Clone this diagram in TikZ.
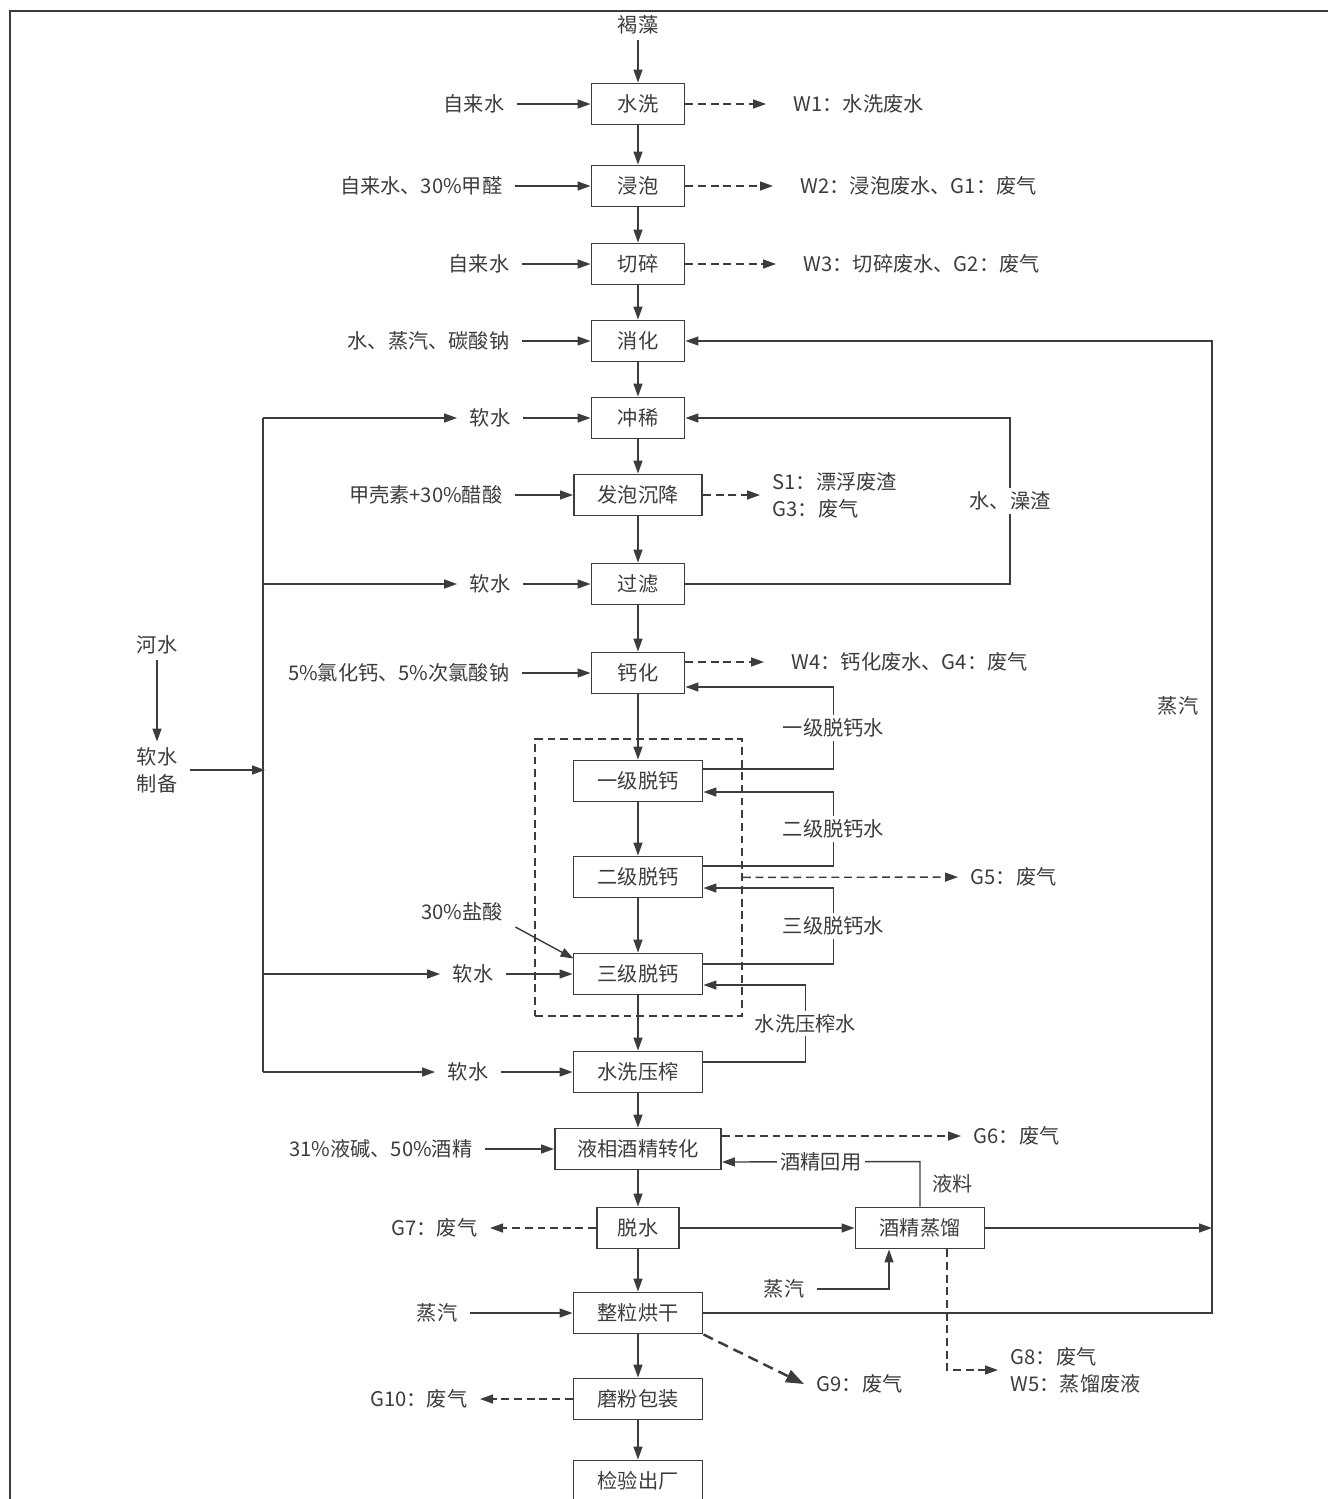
\documentclass[tikz,border=0pt]{standalone}
\usepackage{fontspec}
\setmainfont{Noto Sans CJK SC}
\usepackage{xcolor}
\usepackage{tikz}
\usetikzlibrary{arrows.meta, calc, positioning}
\definecolor{ink}{HTML}{3C3C3C}
\tikzset{
  proc/.style={draw=ink, line width=1.1pt, minimum width=1.86cm, minimum height=0.82cm, inner sep=1pt, text=ink},
  wide/.style={minimum width=2.58cm},
  lbl/.style={inner xsep=0.24cm, inner ysep=0.1cm, text=ink},
  tag/.style={fill=white, inner sep=2pt, text=ink},
  waste/.style={dash pattern=on 4.5pt off 2.7pt, ->},
  wastegap/.style={waste, shorten >=0.3cm}
}

\begin{document}
\begin{tikzpicture}[x=0.02cm, y=-0.02cm, color=ink, line width=0.8pt,
  >={Triangle[length=2.6mm,width=1.8mm]}, font=\fontsize{11.5}{15.3}\selectfont]
  \useasboundingbox (0,0) rectangle (1328,1499);

  % Frame
  \draw[line width=1.2pt] (10,1499) -- (10,11) -- (1328,11);

  % Process boxes
  \node[proc] (wash) at (638,104) {水洗};
  \node[proc] (soak) at (638,186) {浸泡};
  \node[proc] (cut) at (638,264) {切碎};
  \node[proc] (digest) at (638,341) {消化};
  \node[proc] (dilute) at (638,418) {冲稀};
  \node[proc, minimum width=2.56cm] (foam) at (638,495) {发泡沉降};
  \node[proc] (filter) at (638,584) {过滤};
  \node[proc] (calc) at (638,673) {钙化};
  \node[proc, wide] (dec1) at (638,781) {一级脱钙};
  \node[proc, wide] (dec2) at (638,877) {二级脱钙};
  \node[proc, wide] (dec3) at (638,974) {三级脱钙};
  \node[proc, wide] (press) at (638,1072) {水洗压榨};
  \node[proc, minimum width=3.32cm] (conv) at (638,1149) {液相酒精转化};
  \node[proc, minimum width=1.64cm] (dewater) at (638,1228) {脱水};
  \node[proc, wide] (distil) at (920,1228) {酒精蒸馏};
  \node[proc, wide] (dry) at (638,1313) {整粒烘干};
  \node[proc, wide] (mill) at (638,1399) {磨粉包装};
  \node[proc, wide] (check) at (638,1481) {检验出厂};

  % Decalcification stage
  \node[draw, dash pattern=on 4.5pt off 2.7pt, line width=1pt, minimum width=4.14cm, minimum height=5.54cm] (stage) at (638.5,877.5) {};

  % Inputs
  \node[lbl, anchor=south] (alga) at (638,40) {褐藻};
  \node[lbl, anchor=east] (tap1) at (517,104) {自来水};
  \node[lbl, anchor=east] (tap2) at (515,186) {自来水、30\%甲醛};
  \node[lbl, anchor=east] (tap3) at (522,264) {自来水};
  \node[lbl, anchor=east] (steamin) at (522,341) {水、蒸汽、碳酸钠};
  \node[lbl] (sw1) at (490,418) {软水};
  \node[lbl, anchor=east] (chitin) at (515,495) {甲壳素+30\%醋酸};
  \node[lbl] (sw2) at (490,584) {软水};
  \node[lbl, anchor=east] (cacl) at (522,673) {5\%氯化钙、5\%次氯酸钠};
  \node[lbl] (hcl) at (462,912) {30\%盐酸};
  \node[lbl] (sw3) at (473,974) {软水};
  \node[lbl] (sw4) at (468,1072) {软水};
  \node[lbl, anchor=east] (lye) at (485,1149) {31\%液碱、50\%酒精};
  \node[lbl, anchor=east] (steam1) at (470,1313) {蒸汽};
  \node[lbl] (steamD) at (784,1289) {蒸汽};
  \node[lbl] (steamR) at (1178,706) {蒸汽};

  % Soft water
  \node[lbl] (river) at (157,645) {河水};
  \node[lbl, align=center] (softprep) at (157,770) {软水\\制备};
  \coordinate (bus) at (265,770);
  \coordinate (bustop) at (263,418);
  \coordinate (busend) at (263,1072);

  % Outputs
  \node[lbl, anchor=west] (w1) at (781,104) {W1：水洗废水};
  \node[lbl, anchor=west] (w2) at (788,186) {W2：浸泡废水、G1：废气};
  \node[lbl, anchor=west] (w3) at (791,264) {W3：切碎废水、G2：废气};
  \node[lbl, anchor=west, align=left] (s1) at (760,495) {S1：漂浮废渣\\G3：废气};
  \node[lbl, anchor=west] (w4) at (779,662) {W4：钙化废水、G4：废气};
  \node[lbl, anchor=west] (g5) at (958,877) {G5：废气};
  \node[lbl, anchor=west] (g6) at (961,1136) {G6：废气};
  \node[lbl, anchor=east] (g7) at (490,1228) {G7：废气};
  \node[lbl, anchor=west, align=left] (g8) at (998,1370) {G8：废气\\W5：蒸馏废液};
  \node[lbl, anchor=west] (g9) at (804,1384) {G9：废气};
  \node[lbl, anchor=east] (g10) at (480,1399) {G10：废气};

  % Main line
  \draw[->] (alga) -- (wash);
  \foreach \a/\b in {wash/soak, soak/cut, cut/digest, digest/dilute, dilute/foam, foam/filter,
    filter/calc, calc/dec1, dec1/dec2, dec2/dec3, dec3/press, press/conv, conv/dewater,
    dewater/dry, dry/mill, mill/check}
    \draw[->] (\a) -- (\b);

  % Feeds
  \foreach \a/\b in {tap1/wash, tap2/soak, tap3/cut, steamin/digest, sw1/dilute, chitin/foam,
    sw2/filter, cacl/calc, sw3/dec3, sw4/press, lye/conv, steam1/dry}
    \draw[->] (\a) -- (\b);
  \draw[->] (hcl.south east) -- ($(dec3.north west)+(1,6)$);

  % Soft water line
  \draw[->] (river) -- (softprep);
  \draw[->] (softprep) -- (bus);
  \draw (bustop) -- (busend);
  \foreach \n in {sw1, sw2, sw3, sw4}
    \draw[->] (\n -| bustop) -- (\n);

  % Recycled streams
  \draw[->] (filter) -- (1010,584) |- node[pos=0.25, tag] {水、澡渣} (dilute);
  \draw[->] ($(dec1.east)+(0,-12)$) -- ++(130,0) |- node[pos=0.25, tag] {一级脱钙水} ($(calc.east)+(0,14)$);
  \draw[->] ($(dec2.east)+(0,-11)$) -- ++(130,0) |- node[pos=0.25, tag] {二级脱钙水} ($(dec1.east)+(0,11)$);
  \draw[->] ($(dec3.east)+(0,-10)$) -- ++(130,0) |- node[pos=0.25, tag] {三级脱钙水} ($(dec2.east)+(0,11)$);
  \draw[->] ($(press.east)+(0,-10)$) -- ++(102,0) |- node[pos=0.25, tag] {水洗压榨水} ($(dec3.east)+(0,11)$);
  \draw[->] (distil.north) -- node[lbl, right] {液料} ++(0,-45) -- node[tag] {酒精回用} ($(conv.east)+(0,13)$);
  \draw[->] (dewater) -- (distil);
  \draw[->] (steamD) -| ($(distil.south)+(-31,0)$);

  % Steam back to digestion
  \coordinate (riser) at (1212,1228);
  \draw[->] (distil) -- (riser);
  \draw[->] (dry) -| (1212,341) -- (digest);

  % Waste streams
  \draw[wastegap] (wash) -- (w1);
  \draw[wastegap] (soak) -- (w2);
  \draw[wastegap] (cut) -- (w3);
  \draw[waste] (foam) -- (s1);
  \draw[wastegap] ($(calc.east)+(0,-11)$) -- (w4);
  \draw[waste] (stage) -- (g5);
  \draw[waste] ($(conv.east)+(0,-13)$) -- (g6);
  \draw[waste] (dewater) -- (g7);
  \draw[waste] ($(distil.south)+(27,0)$) |- (g8);
  \draw[waste, line width=1.4pt, dash pattern=on 6pt off 3.5pt, -{Triangle[length=3.6mm,width=2.6mm]}] (dry.south east) -- (g9.west);
  \draw[waste] (mill) -- (g10);

\end{tikzpicture}
\end{document}
